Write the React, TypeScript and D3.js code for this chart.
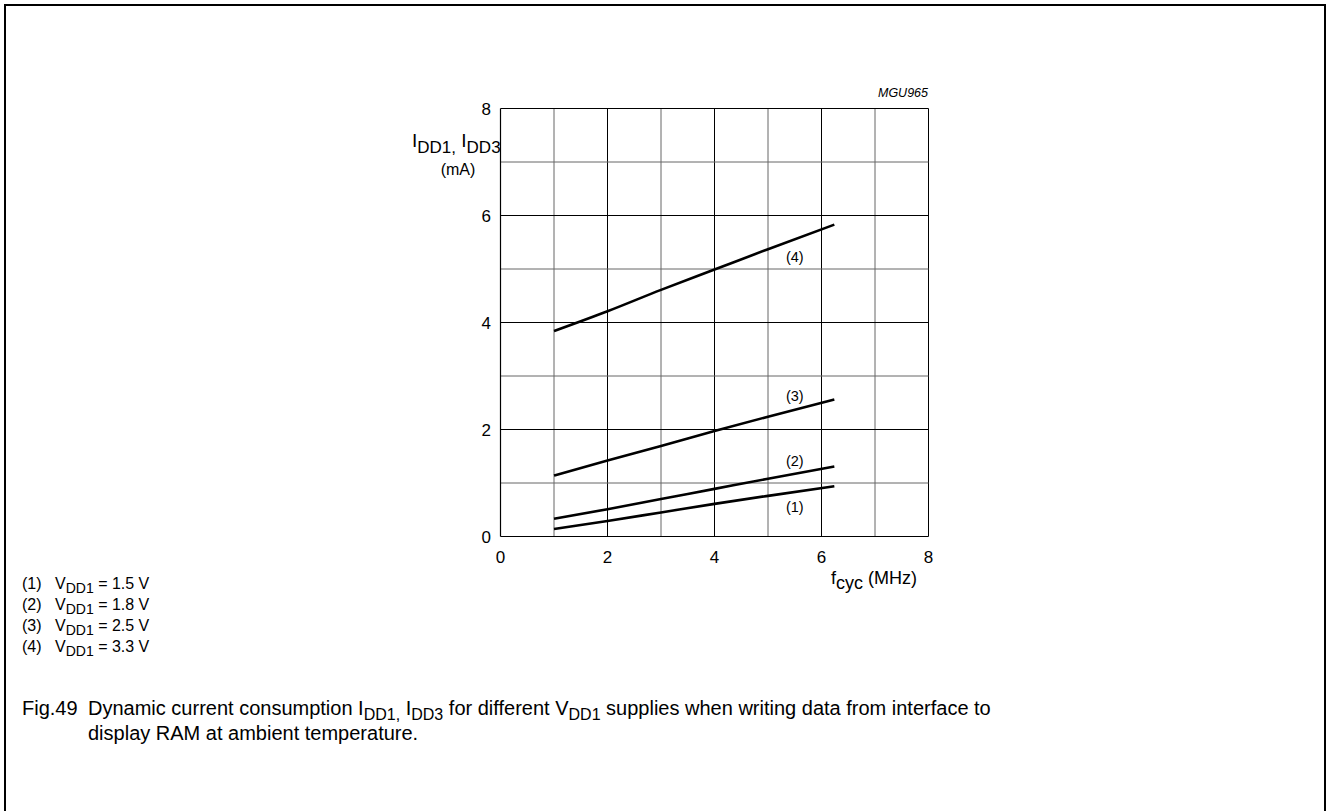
import React from "react";
import * as d3 from "d3";

const xTicks = [0, 2, 4, 6, 8];
const yTicks = [0, 2, 4, 6, 8];
const gridX = [1, 2, 3, 4, 5, 6, 7, 8];
const gridY = [1, 2, 3, 4, 5, 6, 7, 8];

const fcyc = [1, 2, 3, 4, 5, 6.24];
const curve1 = [0.14, 0.29, 0.45, 0.61, 0.76, 0.94];
const curve2 = [0.33, 0.51, 0.7, 0.89, 1.08, 1.31];
const curve3 = [1.14, 1.42, 1.69, 1.97, 2.24, 2.56];
const curve4 = [3.84, 4.21, 4.61, 4.99, 5.37, 5.83];

const curveLabels = ["(1)", "(2)", "(3)", "(4)"];
const labelPos = [
  [5.5, 0.46],
  [5.5, 1.32],
  [5.5, 2.53],
  [5.5, 5.13],
];
const legendVolts = ["1.5", "1.8", "2.5", "3.3"];

const FONT = "'Liberation Sans', Arial, Helvetica, sans-serif";

export default function App() {
  const x = d3.scaleLinear().domain([0, 8]).range([500.5, 928.5]);
  const y = d3.scaleLinear().domain([0, 8]).range([536.5, 108.5]);
  const series = [curve1, curve2, curve3, curve4];
  const line = d3
    .line<number>()
    .x((_, i) => x(fcyc[i]))
    .y((d) => y(d))
    .curve(d3.curveMonotoneX);

  return (
    <svg
      width={1327}
      height={811}
      style={{ position: "absolute", left: 0, top: 0, fontFamily: FONT }}
    >
      <rect width={1327} height={811} fill="#fff" />
      <path d="M5,815 V5 H1325 V815" fill="none" stroke="#000" strokeWidth={2} />

      {/* grid */}
      {gridX.map((v) => (
        <line
          key={"gx" + v}
          x1={x(v)}
          x2={x(v)}
          y1={y(0)}
          y2={y(8)}
          stroke={v % 2 === 1 ? "#666" : "#000"}
          strokeWidth={1}
        />
      ))}
      {gridY.map((v) => (
        <line
          key={"gy" + v}
          x1={x(0)}
          x2={x(8)}
          y1={y(v)}
          y2={y(v)}
          stroke={v % 2 === 1 ? "#666" : "#000"}
          strokeWidth={1}
        />
      ))}
      <line x1={x(0)} x2={x(0)} y1={y(0)} y2={y(8)} stroke="#000" strokeWidth={1.2} />
      <line x1={x(0)} x2={x(8)} y1={y(0)} y2={y(0)} stroke="#000" strokeWidth={1.2} />

      {/* curves */}
      {series.map((s, i) => (
        <path key={"c" + i} d={line(s) || ""} fill="none" stroke="#000" strokeWidth={2.6} />
      ))}
      {curveLabels.map((l, i) => (
        <text
          key={"l" + i}
          x={x(labelPos[i][0])}
          y={y(labelPos[i][1])}
          fontSize={14.5}
          textAnchor="middle"
          fill="#000"
        >
          {l}
        </text>
      ))}

      {/* tick labels */}
      {yTicks.map((t) => (
        <text key={"yt" + t} x={491} y={y(t) + 6} fontSize={17} textAnchor="end">
          {t}
        </text>
      ))}
      {xTicks.map((t) => (
        <text key={"xt" + t} x={x(t)} y={563} fontSize={17} textAnchor="middle">
          {t}
        </text>
      ))}

      {/* axis titles */}
      <text x={412} y={147} fontSize={19}>
        I<tspan dy={6} fontSize={17}>DD1,</tspan>
        <tspan dy={-6}> I</tspan>
        <tspan dy={6} fontSize={17}>DD3</tspan>
      </text>
      <text x={458} y={175} fontSize={16} textAnchor="middle">
        (mA)
      </text>
      <text x={831} y={584} fontSize={18}>
        f<tspan dy={5}>cyc</tspan>
        <tspan dy={-5}> (MHz)</tspan>
      </text>
      <text x={928} y={97} fontSize={12.5} fontStyle="italic" textAnchor="end">
        MGU965
      </text>

      {/* legend */}
      {legendVolts.map((v, i) => (
        <text key={"lg" + i} x={22} y={589 + i * 21} fontSize={16}>
          ({i + 1})
          <tspan x={55}>V</tspan>
          <tspan dy={4} fontSize={14}>DD1</tspan>
          <tspan dy={-4}>{` = ${v} V`}</tspan>
        </text>
      ))}

      {/* caption */}
      <text x={22} y={715} fontSize={20}>
        Fig.49
        <tspan x={88}>Dynamic current consumption I</tspan>
        <tspan dy={5} fontSize={16}>DD1,</tspan>
        <tspan dy={-5}> I</tspan>
        <tspan dy={5} fontSize={16}>DD3</tspan>
        <tspan dy={-5}> for different V</tspan>
        <tspan dy={5} fontSize={16}>DD1</tspan>
        <tspan dy={-5}> supplies when writing data from interface to</tspan>
      </text>
      <text x={88} y={740} fontSize={20}>
        display RAM at ambient temperature.
      </text>
    </svg>
  );
}
